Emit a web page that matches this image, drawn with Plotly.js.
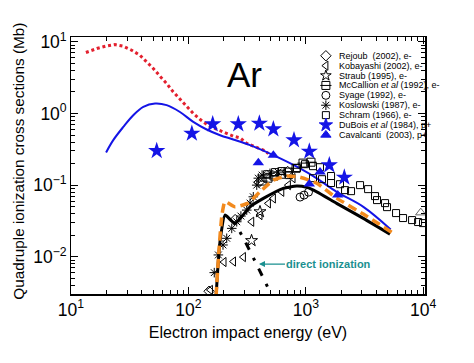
<!DOCTYPE html>
<html>
<head>
<meta charset="utf-8">
<script src="https://cdn.plot.ly/plotly-3.0.1.min.js"></script>
<style>html,body{margin:0;padding:0;background:#fff;}#chart{width:474px;height:363px;}</style>
</head>
<body>
<div id="chart"></div>
<script>
// ---- theory curves ----
const redE   = [13.4,16.6,20.1,23.7,27.9,32.9,38.7,44.2,50.2,57.3,65.3,74.3,84.7,96.7,110,126,143,163,186,212,241,275,314,435,480];
const redS   = [7.1,8.07,8.77,9.17,8.69,7.64,6.5,5.24,4.25,3.31,2.62,2.0,1.57,1.24,1.0,0.824,0.709,0.63,0.572,0.526,0.482,0.457,0.382,0.308,0.277];
const blueE  = [19.9,22.9,27.9,33.9,41.3,52,65.3,84.7,110,143,186,241,335,528,893,1240,1830,3090,5280];
const blueS  = [0.286,0.425,0.65,0.946,1.24,1.38,1.31,1.05,0.764,0.598,0.498,0.434,0.361,0.262,0.171,0.124,0.0807,0.0498,0.0241];
const blackE = [172,180,188,205,249,335,435,643,837,1018,1240,1830,3090,5210];
const blackS = [0.0028,0.009,0.019,0.0382,0.0292,0.0498,0.0652,0.0899,0.0969,0.0929,0.0807,0.0556,0.0344,0.0207];
const orangeE= [172,182,193,205,249,322,407,528,687,893,1240,1830,3090,5400];
const orangeS= [0.0028,0.0124,0.0382,0.0585,0.0498,0.0561,0.0807,0.117,0.134,0.129,0.106,0.0659,0.0394,0.0219];
const directE= [275,294,369,434,480,506];
const directS= [0.0221,0.0182,0.0087,0.0051,0.0036,0.0029];

// ---- experimental data ----
const rejoubE = [150,250,400,700];
const rejoubS = [0.0033,0.033,0.11,0.155];
const kobaE = [154,201,242,294,346,407,480,529,624,710,778];
const kobaS = [0.00344,0.00844,0.00857,0.0099,0.0308,0.0382,0.0556,0.0652,0.0807,0.1,0.125];
const straubE = [345,407];
const straubS = [0.0168,0.0425];
const mccE = [424,476,536,615,705,826,946,1107];
const mccS = [0.114,0.125,0.134,0.142,0.152,0.172,0.203,0.209];
const syageE = [893,966,1054];
const syageS = [0.0681,0.0726,0.0798];
const koslE = [166,180,197,212,234,258,280,314,335,357,382,394,424,495,580];
const koslS = [0.006,0.0106,0.0146,0.0181,0.0249,0.0308,0.037,0.0448,0.0561,0.0687,0.1,0.125,0.138,0.146,0.152];
const schramE = [468,547,627,719,841,984,1151,1151,1320,1374,1640,1640,1955,2158,2427,2897,3390,3883,4038,4729,4915,5867,6730,8035,9040,9960];
const schramS = [0.142,0.152,0.157,0.138,0.173,0.196,0.184,0.125,0.178,0.121,0.134,0.107,0.103,0.0851,0.0824,0.1,0.0879,0.0703,0.0618,0.0561,0.0493,0.0407,0.0347,0.0325,0.0305,0.0295];
const duboisE = [53.7,107,161,266,402,529,793,1071,1585,2128];
const duboisS = [0.301,0.526,0.71,0.71,0.726,0.604,0.425,0.295,0.19,0.128];
const cavE = [394,529,1071,1321,1870];
const cavS = [0.205,0.262,0.104,0.153,0.0726];
const extraE = [9530];
const extraS = [0.0413];

// ---- legend ----
const legendLabels = ['Rejoub  (2002), e-','Kobayashi (2002), e-','Straub (1995), e-','McCallion <i>et al</i> (1992), e-','Syage (1992), e-','Koslowski (1987), e-','Schram (1966), e-','DuBois <i>et al</i> (1984), p+','Cavalcanti  (2003), p+'];
const legendSymbols = ['diamond-open','triangle-left-open','star-open','square-open','circle-open','asterisk-open','square-open','star','triangle-up'];
const legendColors = ['#000','#000','#000','#000','#000','#000','#000','#1414e6','#1414e6'];
const legendSizes = [8,8,8,8,8,8,7,10,9];

const BLUE = '#1414e6';
const FONT = 'Liberation Sans, Arial, sans-serif';
const openM = (sym, size) => ({symbol: sym, size: size, color: '#000', line: {color: '#000', width: 1}});

const traces = [
  {x: redE, y: redS, mode: 'lines', line: {color: '#e3202e', width: 3, dash: '3px,2.8px'}},
  {x: blueE, y: blueS, mode: 'lines', line: {color: BLUE, width: 2, shape: 'spline'}},
  {x: schramE, y: schramS, mode: 'markers', marker: openM('square-open', 7)},
  {x: mccE, y: mccS, mode: 'markers', marker: openM('square-open', 8)},
  {x: mccE, y: mccS, mode: 'markers', marker: openM('line-ew-open', 8)},
  {x: kobaE, y: kobaS, mode: 'markers', marker: openM('triangle-left-open', 8)},
  {x: rejoubE, y: rejoubS, mode: 'markers', marker: openM('diamond-open', 8)},
  {x: syageE, y: syageS, mode: 'markers', marker: openM('circle-open', 8)},
  {x: straubE, y: straubS, mode: 'markers', marker: openM('star-open', 9)},
  {x: koslE, y: koslS, mode: 'markers', marker: openM('asterisk-open', 8)},
  {x: extraE, y: extraS, mode: 'markers', marker: {symbol: 'triangle-up-open', size: 9, color: '#666', line: {color: '#666', width: 1}}},
  {x: blackE, y: blackS, mode: 'lines', line: {color: '#000', width: 3, shape: 'spline', smoothing: 0.5}},
  {x: orangeE, y: orangeS, mode: 'lines', line: {color: '#f28a1e', width: 3.5, dash: '9px,5px', shape: 'spline', smoothing: 0.5}},
  {x: directE, y: directS, mode: 'lines', line: {color: '#000', width: 3, dash: '3px,9px,8px,9px'}},
  {x: duboisE, y: duboisS, mode: 'markers', marker: {symbol: 'star', size: 13, color: BLUE}},
  {x: cavE, y: cavS, mode: 'markers', marker: {symbol: 'triangle-up', size: 10, color: BLUE}}
];

// legend key symbols on an overlay axis in plot fractions
const legX = 0.72;
const legY0 = 0.927, legDY = 0.0385;
const legYs = legendLabels.map((_, i) => legY0 - i * legDY);
legendLabels.forEach((lab, i) => {
  traces.push({x: [legX], y: [legYs[i]], xaxis: 'x2', yaxis: 'y2', mode: 'markers', hoverinfo: 'skip',
    marker: {symbol: legendSymbols[i], size: legendSizes[i], color: legendColors[i], line: {color: legendColors[i], width: 1}}});
  if (i === 3) traces.push({x: [legX], y: [legYs[i]], xaxis: 'x2', yaxis: 'y2', mode: 'markers', hoverinfo: 'skip',
    marker: {symbol: 'line-ew-open', size: 8, color: '#000', line: {color: '#000', width: 1}}});
});

const annotations = legendLabels.map((lab, i) => ({
  xref: 'paper', yref: 'paper', x: 0.7505, y: legYs[i], xanchor: 'left', yanchor: 'middle',
  text: lab, showarrow: false, font: {family: FONT, size: 9, color: '#000'}
}));
annotations.push({xref: 'paper', yref: 'paper', x: 0.49, y: 0.855, xanchor: 'center', yanchor: 'middle',
  text: 'Ar', showarrow: false, font: {family: FONT, size: 35, color: '#000'}});
annotations.push({xref: 'x', yref: 'y', x: Math.log10(399), y: Math.log10(0.0079), text: '<b>direct ionization</b>',
  showarrow: true, ax: 70, ay: 0, arrowhead: 2, arrowsize: 1, arrowwidth: 1.2, arrowcolor: '#1a9090',
  font: {family: FONT, size: 11, color: '#1a9090'}});
// y-axis title placed as rotated text
annotations.push({xref: 'paper', yref: 'paper', x: -0.149, y: 0.5156, xanchor: 'center', yanchor: 'middle',
  text: 'Quadruple ionization cross sections (Mb)', textangle: -90, showarrow: false,
  font: {family: FONT, size: 15.3, color: '#000'}});

const axisCommon = {
  type: 'log', showgrid: false, zeroline: false, showline: true, linecolor: '#000', linewidth: 1.5,
  mirror: 'allticks', ticks: 'inside', ticklen: 7, tickwidth: 1, tickcolor: '#000', dtick: 1,
  exponentformat: 'power', tickfont: {family: FONT, size: 14, color: '#000'},
  minor: {ticks: 'inside', ticklen: 4, tickwidth: 1, tickcolor: '#000', dtick: 'D1', showgrid: false}
};

const layout = {
  width: 474, height: 363,
  margin: {l: 71, r: 49, t: 37, b: 69},
  paper_bgcolor: '#fff', plot_bgcolor: '#fff',
  showlegend: false,
  font: {family: FONT, color: '#000'},
  xaxis: Object.assign({}, axisCommon, {range: [1, 4.015], labelalias: {'10': '10<sup>1</sup>'},
    title: {text: 'Electron impact energy (eV)', font: {size: 16, color: '#000'}, standoff: 8}}),
  yaxis: Object.assign({}, axisCommon, {range: [-2.52, 1.068], labelalias: {'1': '10<sup>0</sup>', '10': '10<sup>1</sup>'}}),
  xaxis2: {overlaying: 'x', range: [0, 1], visible: false, fixedrange: true},
  yaxis2: {overlaying: 'y', range: [0, 1], visible: false, fixedrange: true},
  annotations: annotations
};

Plotly.newPlot('chart', traces, layout, {displayModeBar: false, staticPlot: true});
</script>
</body>
</html>
